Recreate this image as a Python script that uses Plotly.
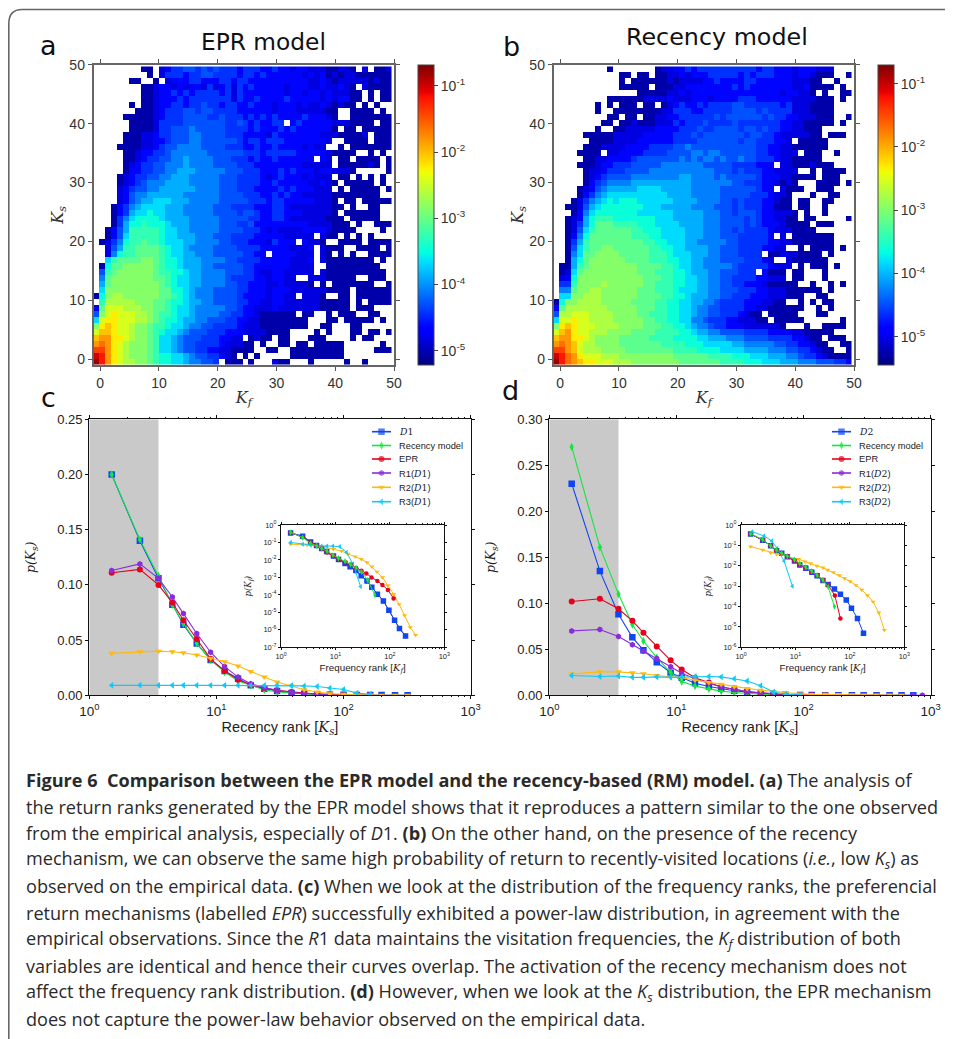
import plotly.graph_objects as go

# page size; the browser puts the figure 8 px in from the page corner
W, H = 953, 1039
ORIGIN = 8
FW, FH = W - ORIGIN, H - ORIGIN

# ---------- heat map cells, read by eye, top row first; "." = empty, 0..l = colour level ----------
LEVELS = "0123456789abcdefghijkl"
epr_rows = """
........00 .123344343 4333233322 3221221110 0110.1.001
.........0 .133323344 3333233232 2222212120 1011000000
......00.. 0.12223322 2332332222 2222221121 0111110100
........00 1221212213 1231323222 2212221121 1210.10000
........00 1223232333 3231322222 2212212212 11100.0.00
........00 1222323333 3331322322 2232222212 12200.0.00
......0.00 1223323343 3233223222 1222121121 0100.0.0..
.......000 1233344344 3333222222 1222111110 0..0000.0.
.....00000 1233344443 3433323232 3222232221 0..0000000
......0000 1333344444 4433432322 33.2322222 1110000.00
......0000 1334445444 4433332322 2323222222 0.00.00000
.....00011 2334445544 4433322221 3222222211 100001.000
.....00011 2234445544 4444323323 3322222221 ..0000.000
....000011 2344555544 4433322322 322221211. .0.0000000
.....00122 3345555554 4444433323 3333222221 0000..0.0.
.....00123 3445565555 4443332322 3222222.21 .00.0000.0
.....01233 4455565555 4444333222 2222211111 .0000010.0
.....02233 4455666555 5544433322 2323222122 1110.....0
....012334 4556665555 5444333321 2322212111 .00.0.0.0.
....012345 5566665555 5444333322 3222221121 0.00000.0.
....123445 5666666555 5444333222 2323222111 .0.00000.0
....124556 6666655555 5444433322 3232211111 00000000..
....124566 7776665555 5444443332 3322222111 0.00.00000
...0235677 7766655555 4443333222 3321111111 00.0..00..
...0236778 7766655555 4444344322 3322211111 0.000000..
...0357888 8766665555 5444443322 3321111110 00.00000..
...0368898 8876665555 5444334222 2222221111 000.0..000
..02469999 9877665555 5444433321 2111122221 0000....0.
..02479999 9877666555 4443333222 2211111.10 0.0.0.0...
.0135899a9 9877766555 5443332221 3222.2110. .0000.0000
..14699aaa a987765555 4444333322 2221112.10 00..0000.0
..15899aaa a987766555 444443322. 2222111.10 .0.0..0000
..79aaaabb a988766655 5544333322 2221112.10 0000000.0.
.08aabbbbb a988766655 4444433222 2221111..0 00000000..
.49abbbbbb a998876655 5544433211 2211111.10 000000000.
.5abbbbbbb aa98776655 5543333221 2211..1110 0000..000.
.6abbbbbbb ba98776655 5544332221 1211110.0. 0000000..0
.7bbbbbbbb baa8876555 4444332221 2221111110 000.000000
08bccbbbbb baa9876555 4444322221 2211.1110. .00.000000
.9cccccbbb aa98876655 4444332211 2211111100 000.0.0000
1adddcccbb aa98776555 5544322111 2111111100 000.000...
4bdedddccb a998776555 5443322100 0000.00..0 .000..00..
7deedddccb a988766554 4433221100 000000...0 0.00000.0.
befeddcbba 9987765544 3333211100 000000..00 ...00.....
dffeddcbba 9877654443 3322211110 000....0.0 ...00.00.0
fggeedcbba 9776544433 32211.0100 .00...000. ...0.00...
ghgedcbbba 9776544333 3211100.0. .00.00.000 00......0.
iigedcbbba 9776544332 2110000..0 0..0000000 00.....000
kjgedcbbba 9887765443 3210.0.0.. ...0000000 00........
ljgedccbba 9887765544 3.000.0... 100...0... ..0..0....
"""
recency_rows = """
.........0 .......011 2232333333 3333233222 1222111...
.......... .00.00.001 1212223333 3232333222 1221000..0
.......... .0.0000001 0111122322 2233222222 11100..0..
.......... .00000.000 1122222222 3232222222 1120000.0.
.......... ....000001 1212222222 2222222212 2110.0..00
.........0 0000011112 1112221222 2333222222 1111000.0.
.......0.0 .000.00.01 2322323333 4433333323 1110000...
.......0.. 0000000011 3332233333 4444343333 1110000...
.........0 0.00.00112 2333333434 4444434332 2111000..0
........00 .001000111 3233343333 4333333322 1100000.0.
.......0.. 0011111222 2333433444 4344343322 11000.....
.....00000 1111122222 3334344444 4434433211 11100.000.
......0000 1111222222 3333444444 4344333221 .00000....
.....00011 1122223333 4454444444 4444332211 000000....
....0000.1 1222233334 4445545544 4444332211 1.000..0..
.....00112 2223444444 4545455454 4544333211 00000.....
....000122 3334444455 5555544444 3333222.11 0001000...
.....01123 3344445555 5555555444 3433322111 1..0.0000.
.....01234 4445555555 5665555454 4444322211 0000.000..
.....02345 5556666666 6665555555 4433322101 0...0000.0
....012456 6666777766 6665555544 4444322.10 00..000...
....023567 7777777776 6665555544 4443332110 ...0..00..
...0135678 7888777777 6666555544 3433322100 .00..00...
..00146788 8888877766 6665555444 3433322000 .00..0....
...0257888 8888777777 6666655544 3444322111 0.0..0....
..01268999 8888888777 6666655544 4434322110 0.00.....0
..01368aaa 9999888777 7666655544 4434322210 000.000...
..01479aaa aaa9988877 7766655544 3433332111 0000......
..0258aaaa aaa9998877 7766655544 4333332.1. 0000000...
..0369aaaa aaaaa99887 7766555554 4333332211 0000000...
..0479aabb aaaaaa9988 7766665544 433332211. .0.0000.0.
..057aabbb baaaaa9998 7776665544 43333.0011 10000.0...
..068abbbb bbaaaa9998 8776655544 4433321..1 000000....
.0069abbbb bbbbaaaa99 8776655555 4333332111 .0.000.0..
.017abbbbb bbbbaaa999 8876665544 4333.2000. 00...0....
.128bbbbbb bbbbbaaa99 8877665544 333322111. 00...0....
.339bbbbcb bbbbbaa999 8877665544 3322210000 0..0..0.0.
.55abbccbb bbbbaaa999 8777665544 4333221110 00000.0...
.77bbcccbb bbbbaaaa99 8876665544 3332221110 00..00....
08bbccccbb bbbaaaa998 8776655433 332221100. .0.0.00...
2acccccccb bbbbaaa998 8776554433 3322110000 00..0.0...
4ccdddcccc bbbbaa9998 8776554433 32100.0000 0...00....
7ddeddcccc bbbbbaa998 8775543332 211100.000 00......0.
befedddccc cbbbbaaa99 8876554332 221111110. ..0..0000.
dfgeddcccb bbbaaaa999 9887665544 4433332222 1100000...
fggeedcbbb baaaaa9999 8888776665 5544443333 22100.000.
ghgfdccbbb baaaaaaa99 9988877777 6655555443 322100..00
iigfdcccbb bbaaaaaaaa 9999888877 7766665554 4332100..0
kjhgedddcc cbbbbbbbbb aaaaaa9999 8887776665 5433210000
ljhgfeeddd cccbbbbbbb baaaaaaa99 9988877766 6555444332
"""

def level_position(c):
    n = LEVELS.index(c)
    return (n + 0.5) / len(LEVELS) + (0.015 if n < 4 else 0)

def cells(text):
    grid = []
    for row in text.strip().splitlines()[::-1]:
        row = row.replace(" ", "").ljust(50, ".")[:50]
        grid.append([None if c == "." else level_position(c) for c in row])
    return grid

bin_centers = [i * 1.013 - 0.62 for i in range(50)]
bin_centers_y = [i * 1.013 - 0.45 for i in range(50)]

epr_z_range = [-5.21, -0.68]
rec_z_range = [-5.44, -0.70]
cbar_powers = [-5, -4, -3, -2, -1]
cbar_labels = ["10<sup>-5</sup>", "10<sup>-4</sup>", "10<sup>-3</sup>", "10<sup>-2</sup>", "10<sup>-1</sup>"]
heat_ticks = [0, 10, 20, 30, 40, 50]

JET = [[0, "#00007f"], [.11, "#0000ff"], [.125, "#0000ff"], [.34, "#00dbff"], [.375, "#00ffe2"],
       [.64, "#eeff08"], [.66, "#ffec00"], [.89, "#ff1300"], [.91, "#e80000"], [1, "#7f0000"]]

# ---------- panel c: recency rank ----------
rank_c = [1.5, 2.5, 3.5, 4.5, 5.5, 7, 9, 11.6, 14.8, 18.6, 23.8, 30, 39, 49, 62, 78, 100, 127, 162, 199, 254, 319]
c_D1 = [.20, .14, .106, .082, .064, .047, .032, .022, .015, .009, .006, .004, .002, .0015, .001, .0006, .0004, .0003, .0002, .0002, .0001, .0001]
c_rec = [.20, .141, .108, .082, .065, .047, .032, .021, .013, .009, .005, .003, .002, .0012, .0008, .0004]
c_epr = [.111, .114, .100, .084, .068, .051, .033, .022, .014, .0095, .0065, .0045, .003, .002, .0012, .0007, .0004, .0002, .0001]
c_r1 = [.113, .119, .106, .089, .074, .056, .039, .026, .0165, .0105, .007, .0045, .0025, .0015, .0009, .0005, .0003, .0002, .0001]
c_r2 = [.038, .0395, .040, .0395, .0385, .0365, .0335, .0305, .0265, .0215, .0165, .012, .0085, .005, .003, .0015, .001, .0005, .0002, .0001, .0001, .0001]
c_r3 = [.009, .0092, .009, .009, .009, .009, .009, .009, .009, .009, .009, .009, .0088, .0085, .008, .0065, .0052, .002, .001]

# ---------- panel d: recency rank ----------
rank_d = [1.5, 2.5, 3.5, 4.5, 5.5, 7, 9, 11, 14, 18, 22.5, 28.5, 36, 46, 58, 72, 94, 116, 148, 188, 240, 297, 375, 475, 590, 730, 860]
d_D2 = [.23, .135, .088, .063, .049, .036, .0245, .019, .013, .0095, .007, .005, .0035, .002, .0012, .0007, .0004, .0002, .0001, .0001, .0001, .0001, .0001, .0001, .0001, .0001]
d_rec = [.27, .161, .110, .077, .059, .041, .025, .015, .010, .007, .0045, .003, .002, .001, .0004, .0001]
d_epr = [.102, .105, .094, .081, .068, .053, .038, .028, .019, .014, .009, .0065, .004, .0025, .0012, .0006, .0004, .0002, .0001]
d_r1 = [.070, .0715, .064, .055, .048, .040, .031, .024, .018, .013, .009, .0065, .004, .0028, .0015, .0009, .0006, .0004, .0002, .0001, .0001, .0001, .0001, .0001, .0001, .0001, .0001]
d_r2 = [.0235, .0255, .0255, .0245, .0235, .0215, .020, .019, .0165, .014, .012, .0095, .0075, .0055, .004, .003, .0015, .001, .0012, .0008, .0006, .0004, .0003, .0002, .0001]
d_r3 = [.0215, .0205, .021, .0195, .0195, .020, .0195, .020, .0205, .0205, .020, .018, .0155, .0105, .0035, .0012, .0004]

# ---------- inset c: frequency rank ----------
ic_x_D1 = [1.5, 2.5, 3.5, 4.5, 5.6, 6.9, 9.2, 11.4, 15, 18.6, 23.7, 29.7, 38, 46.6, 59, 76, 96, 122, 150, 194]
ic_D1 = [.35, .23, .107, .066, .045, .03, .017, .0107, .0063, .0041, .0025, .00126, .00063, .00027, .00011, .000045, .000013, .0000035, .0000012, .00000045]
ic_x_rec = [1.5, 2.5, 3.5, 4.5, 5.6, 7, 9, 11.4, 15, 19, 24, 30, 39, 53]
ic_rec = [.38, .19, .09, .065, .045, .032, .019, .0125, .0085, .0055, .0035, .0021, .0007, .0001]
ic_x_epr = [1.5, 2.5, 3.5, 4.5, 5.6, 7, 9, 11.4, 15, 19, 24, 30, 37, 46, 59, 73, 92, 117]
ic_epr = [.36, .2, .1, .065, .045, .027, .017, .011, .0075, .0055, .0035, .0024, .0017, .001, .00063, .00037, .00019, .000063]
ic_x_r2 = [1.5, 3, 5.2, 9.2, 13, 17, 23, 30, 38, 47, 58, 73, 92, 117, 148, 186, 237, 297]
ic_r2 = [.081, .072, .062, .041, .032, .022, .0155, .011, .0072, .0041, .0021, .001, .00035, .00011, .000029, .0000068, .0000014, .0000005]
ic_x_r3 = [1.5, 2.5, 3.5, 4.5, 5.5, 7, 9, 12, 16, 21, 29]
ic_r3 = [.1, .08, .07, .065, .062, .063, .062, .058, .027, .006, .0003]

# ---------- inset d: frequency rank ----------
id_x_D2 = [1.5, 2.5, 3.5, 4.5, 5.6, 7.1, 9.6, 12, 15.5, 20, 25, 32, 40, 52, 67, 86, 107, 138, 178]
id_D2 = [.36, .18, .097, .055, .041, .028, .017, .011, .0075, .0048, .0032, .0019, .0012, .00073, .0004, .00021, .000083, .000026, .0000049]
id_x_rec = [1.5, 2.5, 3.5, 4.5, 5.6, 7.1, 9.6, 12, 15.5, 20, 25, 32, 40, 52]
id_rec = [.37, .19, .095, .058, .041, .03, .02, .013, .0085, .0055, .0035, .002, .0009, .0001]
id_x_epr = [1.5, 2.5, 3.5, 4.5, 5.6, 7.1, 9.6, 12, 15.5, 20, 25, 32, 40, 53, 67]
id_epr = [.36, .19, .095, .058, .041, .029, .018, .012, .0085, .0052, .0034, .002, .0011, .00035, .000026]
id_x_r2 = [1.5, 2.5, 3.5, 4.5, 7.1, 11.5, 15, 19, 24.5, 32, 39, 50, 64, 80, 101, 130, 166, 210, 268, 340, 430]
id_r2 = [.087, .06, .044, .037, .028, .021, .016, .013, .01, .0081, .0062, .0048, .0034, .0024, .0017, .0011, .00065, .00035, .00017, .00005, .000007]
id_x_r3 = [1.6, 2.65, 3.67, 4.6, 6.2, 8.8]
id_r3 = [.47, .29, .165, .072, .017, .001]

caption_lines = [
    "<b>Figure 6  Comparison between the EPR model and the recency-based (RM) model. (a)</b> The analysis of",
    "the return ranks generated by the EPR model shows that it reproduces a pattern similar to the one observed",
    "from the empirical analysis, especially of <i>D</i>1. <b>(b)</b> On the other hand, on the presence of the recency",
    "mechanism, we can observe the same high probability of return to recently-visited locations (<i>i.e.</i>, low <i>K<sub>s</sub></i>) as",
    "observed on the empirical data. <b>(c)</b> When we look at the distribution of the frequency ranks, the preferencial",
    "return mechanisms (labelled <i>EPR</i>) successfully exhibited a power-law distribution, in agreement with the",
    "empirical observations. Since the <i>R</i>1 data maintains the visitation frequencies, the <i>K<sub>f</sub></i> distribution of both",
    "variables are identical and hence their curves overlap. The activation of the recency mechanism does not",
    "affect the frequency rank distribution. <b>(d)</b> However, when we look at the <i>K<sub>s</sub></i> distribution, the EPR mechanism",
    "does not capture the power-law behavior observed on the empirical data.",
]

# ---------- styles ----------
BLUE, GREEN, RED, PURPLE, AMBER, CYAN = "#0f45f2", "#14e640", "#e8001c", "#8a2bdc", "#ffb90f", "#12c8f5"
SANS = "Liberation Sans"
SERIF = "DejaVu Serif"

def sx(l, r): return [(l - ORIGIN) / FW, (r - ORIGIN) / FW]
def sy(t, b): return [1 - (b - ORIGIN) / FH, 1 - (t - ORIGIN) / FH]
def math(s): return f"<span style=\"font-family:'{SERIF}'\"><i>{s}</i></span>"

fig = go.Figure()
layout = dict(width=FW, height=FH, margin=dict(l=0, r=0, t=0, b=0, pad=0, autoexpand=False), autosize=False,
              paper_bgcolor="white", plot_bgcolor="rgba(0,0,0,0)", showlegend=False, font=dict(family=SANS, color="#222"))

# ----- heat maps -----
def heat_axes(xa, ya, l, r):
    common = dict(tickvals=heat_ticks, ticks="outside", ticklen=4, tickwidth=1, tickcolor="#555",
                  showline=True, linecolor="#666", linewidth=1.5, mirror="allticks", showgrid=False, zeroline=False,
                  tickfont=dict(size=14, color="#333"))
    layout[xa] = dict(common, domain=sx(l, r), range=[-1.13, 50], anchor=ya.replace("axis", ""),
                      title=dict(text=math("K<sub>f</sub>"), font=dict(size=16, color="#333"), standoff=2))
    layout[ya] = dict(common, domain=sy(64.7, 365), range=[-0.96, 50], anchor=xa.replace("axis", ""),
                      title=dict(text=math("K<sub>s</sub>"), font=dict(size=16, color="#333"), standoff=2))

for text_rows, zr, xa, ya, cb_x in [
    (epr_rows, epr_z_range, "x", "y", 418),
    (recency_rows, rec_z_range, "x2", "y2", 878),
]:
    grid = cells(text_rows)
    z = [[None if v is None else zr[0] + v * (zr[1] - zr[0]) for v in row] for row in grid]
    fig.add_trace(go.Heatmap(
        x=bin_centers, y=bin_centers_y, z=z, xaxis=xa, yaxis=ya, zmin=zr[0], zmax=zr[1], colorscale=JET,
        hoverongaps=False, zsmooth=False,
        colorbar=dict(x=(cb_x - ORIGIN) / FW, xanchor="left", xpad=0, ypad=0, y=1 - (64.7 - ORIGIN) / FH, yanchor="top",
                      len=300.3 / FH, lenmode="fraction", thickness=16, thicknessmode="pixels", tickvals=cbar_powers,
                      ticktext=cbar_labels, ticks="outside", ticklen=4, tickcolor="#444", outlinecolor="#444",
                      outlinewidth=1, tickfont=dict(size=14, color="#333")),
    ))
heat_axes("xaxis", "yaxis", 93.5, 394)
heat_axes("xaxis2", "yaxis2", 553.5, 854)

# ----- log line panels -----
POW_X = ["10<sup>0</sup>", "10<sup>1</sup>", "10<sup>2</sup>", "10<sup>3</sup>"]
XTICKS = [1, 10, 100, 1000]

def line(x, y, color, symbol, size, xa, ya, width=1.1):
    fig.add_trace(go.Scatter(x=x[:len(y)], y=y, mode="lines+markers", xaxis=xa, yaxis=ya,
                             line=dict(color=color, width=width),
                             marker=dict(symbol=symbol, size=size, color=color, line=dict(width=0))))

def log_x(domain, anchor, fs, title, title_size, standoff, tl):
    return dict(domain=domain, anchor=anchor, type="log", range=[0, 3], tickvals=XTICKS, ticktext=POW_X,
                ticks="outside", ticklen=tl, tickcolor="#111", showline=True, linecolor="#111", linewidth=1.2,
                mirror="allticks", showgrid=False, zeroline=False, tickfont=dict(size=fs, color="#222"),
                minor=dict(ticks="outside", ticklen=max(tl - 2, 1), tickcolor="#111", dtick="D1", showgrid=False),
                title=dict(text=title, font=dict(size=title_size, color="#222"), standoff=standoff))

for xs, series, xa, ya, l, r, ymax, ytick in [
    (rank_c, [(c_D1, BLUE, "square", 6.5), (c_rec, GREEN, "diamond-tall", 6), (c_epr, RED, "circle", 6),
              (c_r1, PURPLE, "hexagon", 6), (c_r2, AMBER, "triangle-down", 6), (c_r3, CYAN, "triangle-left", 6)],
     "x3", "y3", 89.3, 470.7, .25, [0, .05, .10, .15, .20, .25]),
    (rank_d, [(d_D2, BLUE, "square", 6.5), (d_rec, GREEN, "diamond-tall", 6), (d_epr, RED, "circle", 6),
              (d_r1, PURPLE, "hexagon", 6), (d_r2, AMBER, "triangle-down", 6), (d_r3, CYAN, "triangle-left", 6)],
     "x4", "y4", 549.3, 930.7, .30, [0, .05, .10, .15, .20, .25, .30]),
]:
    for vals, col, sym, sz in series:
        line(xs, vals, col, sym, sz, xa, ya)
    layout["xaxis" + xa[1:]] = log_x(sx(l, r), ya, 13.5, "Recency rank [" + math("K<sub>s</sub>") + "]", 14.5, 3, 3)
    layout["yaxis" + ya[1:]] = dict(domain=sy(419.3, 695.3), anchor=xa, range=[0, ymax], tickvals=ytick,
                                    tickformat=".2f", ticks="outside", ticklen=3, tickcolor="#111", showline=True,
                                    linecolor="#111", linewidth=1.2, mirror="allticks", showgrid=False, zeroline=False,
                                    tickfont=dict(size=13, color="#222"),
                                    title=dict(text=math("p(K<sub>s</sub>)"), font=dict(size=12.5, color="#222"), standoff=18))

inset_series = [
    ("x5", "y5", [(ic_x_D1, ic_D1, PURPLE, "hexagon", 5), (ic_x_D1, ic_D1, BLUE, "square", 5.5),
                  (ic_x_r2, ic_r2, AMBER, "triangle-down", 4.5), (ic_x_r3, ic_r3, CYAN, "triangle-left", 4.5),
                  (ic_x_epr, ic_epr, RED, "circle", 4.5), (ic_x_rec, ic_rec, GREEN, "diamond-tall", 4.5)]),
    ("x6", "y6", [(id_x_D2, id_D2, BLUE, "square", 5.5), (id_x_D2[:13], id_D2[:13], PURPLE, "hexagon", 5),
                  (id_x_r2, id_r2, AMBER, "triangle-down", 4.5), (id_x_r3, id_r3, CYAN, "triangle-left", 4.5),
                  (id_x_epr, id_epr, RED, "circle", 4.5), (id_x_rec, id_rec, GREEN, "diamond-tall", 4.5)]),
]
for xa, ya, ser in inset_series:
    for x, y, col, sym, sz in ser:
        line(x, y, col, sym, sz, xa, ya, width=1)

IC_POW = [-7, -6, -5, -4, -3, -2, -1, 0]
ID_POW = [-6, -5, -4, -3, -2, -1, 0]
for xa, ya, l, r, pows in [("x5", "y5", 281, 444.3, IC_POW), ("x6", "y6", 741, 904.3, ID_POW)]:
    layout["xaxis" + xa[1:]] = log_x(sx(l, r), ya, 7.5, "Frequency rank [" + math("K<sub>f</sub>") + "]", 9.8, 3, 2)
    layout["yaxis" + ya[1:]] = dict(domain=sy(525, 647.3), anchor=xa, type="log", range=[pows[0], pows[-1]],
                                    tickvals=[10.0 ** p for p in pows], ticktext=[f"10<sup>{p}</sup>" for p in pows],
                                    ticks="outside", ticklen=2, tickcolor="#111", showline=True, linecolor="#111",
                                    linewidth=1.2, mirror="allticks", showgrid=False, zeroline=False,
                                    tickfont=dict(size=7.5, color="#222"),
                                    title=dict(text=math("p(K<sub>f</sub>)"), font=dict(size=8.5, color="#222"), standoff=10))

# ----- page overlay in page-pixel units (frame, legends, letters, caption) -----
layout["xaxis7"] = dict(domain=[0, 1], range=[ORIGIN, W], visible=False, anchor="y7", fixedrange=True)
layout["yaxis7"] = dict(domain=[0, 1], range=[H, ORIGIN], visible=False, anchor="x7", fixedrange=True)

annotations = []
def text(x, y, s, size, family=SANS, color="#222", xanchor="left"):
    annotations.append(dict(x=x, y=y, xref="x7", yref="y7", text=s, showarrow=False, xanchor=xanchor, yanchor="middle",
                            align="left", font=dict(size=size, family=family, color=color)))

legend_y = [431.7, 445.5, 459, 473, 487.3, 501.7]
legend_styles = [(BLUE, "square", 6.5), (GREEN, "diamond-tall", 6), (RED, "circle", 6),
                 (PURPLE, "hexagon", 6), (AMBER, "triangle-down", 6), (CYAN, "triangle-left", 6)]
for x_line, x_text, name in [(372, 397, "D1"), (832, 857, "D2")]:
    d = "<i>" + name[0] + "</i>" + name[1]
    dm = f"<span style=\"font-family:'{SERIF}'\">{d}</span>"
    labels = [dm, "Recency model", "EPR", f"R1({dm})", f"R2({dm})", f"R3({dm})"]
    for yy, (col, sym, sz), lab in zip(legend_y, legend_styles, labels):
        fig.add_trace(go.Scatter(x=[x_line, x_line + 9.5, x_line + 19], y=[yy, yy, yy], xaxis="x7", yaxis="y7",
                                 mode="lines+markers", line=dict(color=col, width=1.6),
                                 marker=dict(symbol=sym, size=[0, sz, 0], color=col, line=dict(width=0)), hoverinfo="skip"))
        text(x_text, yy, lab, 9.3)

text(263, 41, "EPR model", 23.3, "DejaVu Sans", "#111", "center")
text(717, 37, "Recency model", 23.8, "DejaVu Sans", "#111", "center")
text(38, 45, "a", 27, "DejaVu Sans", "#111")
text(501, 46, "b", 27, "DejaVu Sans", "#111")
text(39, 397, "c", 27, "DejaVu Sans", "#111")
text(500, 390, "d", 27, "DejaVu Sans", "#111")

for i, s in enumerate(caption_lines):
    text(23.5, 780 + i * 26.55, s, 18.1, "Open Sans", "#2a2a2a")

layout["annotations"] = annotations
layout["shapes"] = [
    dict(type="rect", xref="x3", yref="y3", x0=1, x1=3.5, y0=0, y1=.25, fillcolor="#c9c9c9", line=dict(width=0), layer="below"),
    dict(type="rect", xref="x4", yref="y4", x0=1, x1=3.5, y0=0, y1=.30, fillcolor="#c9c9c9", line=dict(width=0), layer="below"),
    dict(type="path", xref="x7", yref="y7", path=f"M 8.8 {H} L 8.8 24 Q 8.8 9.5 22 9.5 L {W} 9.5",
         line=dict(color="#666", width=1.6), layer="below"),
]
fig.update_layout(**layout)
fig.write_html("out.html")
